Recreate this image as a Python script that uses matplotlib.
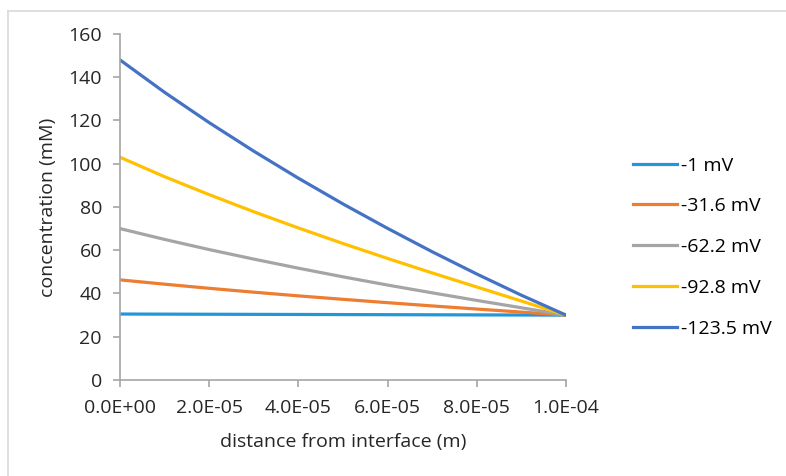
import numpy as np
import matplotlib.pyplot as plt
from matplotlib.lines import Line2D

plt.rcParams['font.family'] = ['Open Sans', 'DejaVu Sans']

# distance from interface (m)
x = [0, 1e-5, 2e-5, 3e-5, 4e-5, 5e-5, 6e-5, 7e-5, 8e-5, 9e-5, 1e-4]

# concentration (mM) per membrane potential
c_1 = [30.5, 30.45, 30.4, 30.35, 30.3, 30.25, 30.2, 30.15, 30.1, 30.05, 30.0]
c_31 = [46.3, 44.3, 42.4, 40.6, 38.9, 37.3, 35.75, 34.25, 32.8, 31.4, 30.0]
c_62 = [70.0, 65.0, 60.3, 55.9, 51.7, 47.7, 43.9, 40.3, 36.8, 33.4, 30.0]
c_92 = [103.0, 94.0, 85.7, 77.8, 70.3, 63.1, 56.2, 49.5, 43.0, 36.5, 30.0]
c_123 = [148.0, 133.0, 119.0, 105.8, 93.3, 81.4, 70.1, 59.3, 49.0, 39.2, 30.0]

labels = ['-1 mV', '-31.6 mV', '-62.2 mV', '-92.8 mV', '-123.5 mV']
colors = ['#2196D8', '#ED7D31', '#A5A5A5', '#FFC000', '#4472C4']
series = [c_1, c_31, c_62, c_92, c_123]

fig = plt.figure(figsize=(7.86, 4.76), dpi=100)
ax = fig.add_axes([0.1527, 0.2017, 0.5674, 0.7269])

for y, lab, col in zip(series, labels, colors):
    ax.plot(x, y, color=col, lw=2.3, label=lab, solid_joinstyle='round')

ax.set_xlim(0, 1e-4)
ax.set_ylim(0, 160)
ax.set_xticks(np.arange(0, 1.01e-4, 2e-5))
ax.set_xticklabels(['0.0E+00', '2.0E-05', '4.0E-05', '6.0E-05', '8.0E-05', '1.0E-04'])
ax.set_yticks(range(0, 161, 20))

for s in ['top', 'right']:
    ax.spines[s].set_visible(False)
for s in ['left', 'bottom']:
    ax.spines[s].set_color('#A6A6A6')
    ax.spines[s].set_linewidth(1.2)
ax.tick_params(colors='#A6A6A6', length=5, width=1.2, labelcolor='#262626', labelsize=14)
ax.tick_params(axis='x', pad=9)
ax.tick_params(axis='y', pad=8)

ax.set_xlabel('distance from interface (m)', fontsize=14, color='#262626', labelpad=11)
ax.set_ylabel('concentration (mM)', fontsize=14, color='#262626', labelpad=8)

fig.legend(loc='center left', bbox_to_anchor=(0.805, 0.481), frameon=False,
           fontsize=14, handlelength=2.3, handletextpad=0.2, labelspacing=1.17,
           borderpad=0, borderaxespad=0)

# chart area border
fig.add_artist(Line2D([0.0102, 1.0], [0.977, 0.977], color='#D9D9D9', lw=1.2))
fig.add_artist(Line2D([0.0102, 0.0102], [0.0, 0.977], color='#D9D9D9', lw=1.2))

fig.savefig('out.png', dpi=100)
